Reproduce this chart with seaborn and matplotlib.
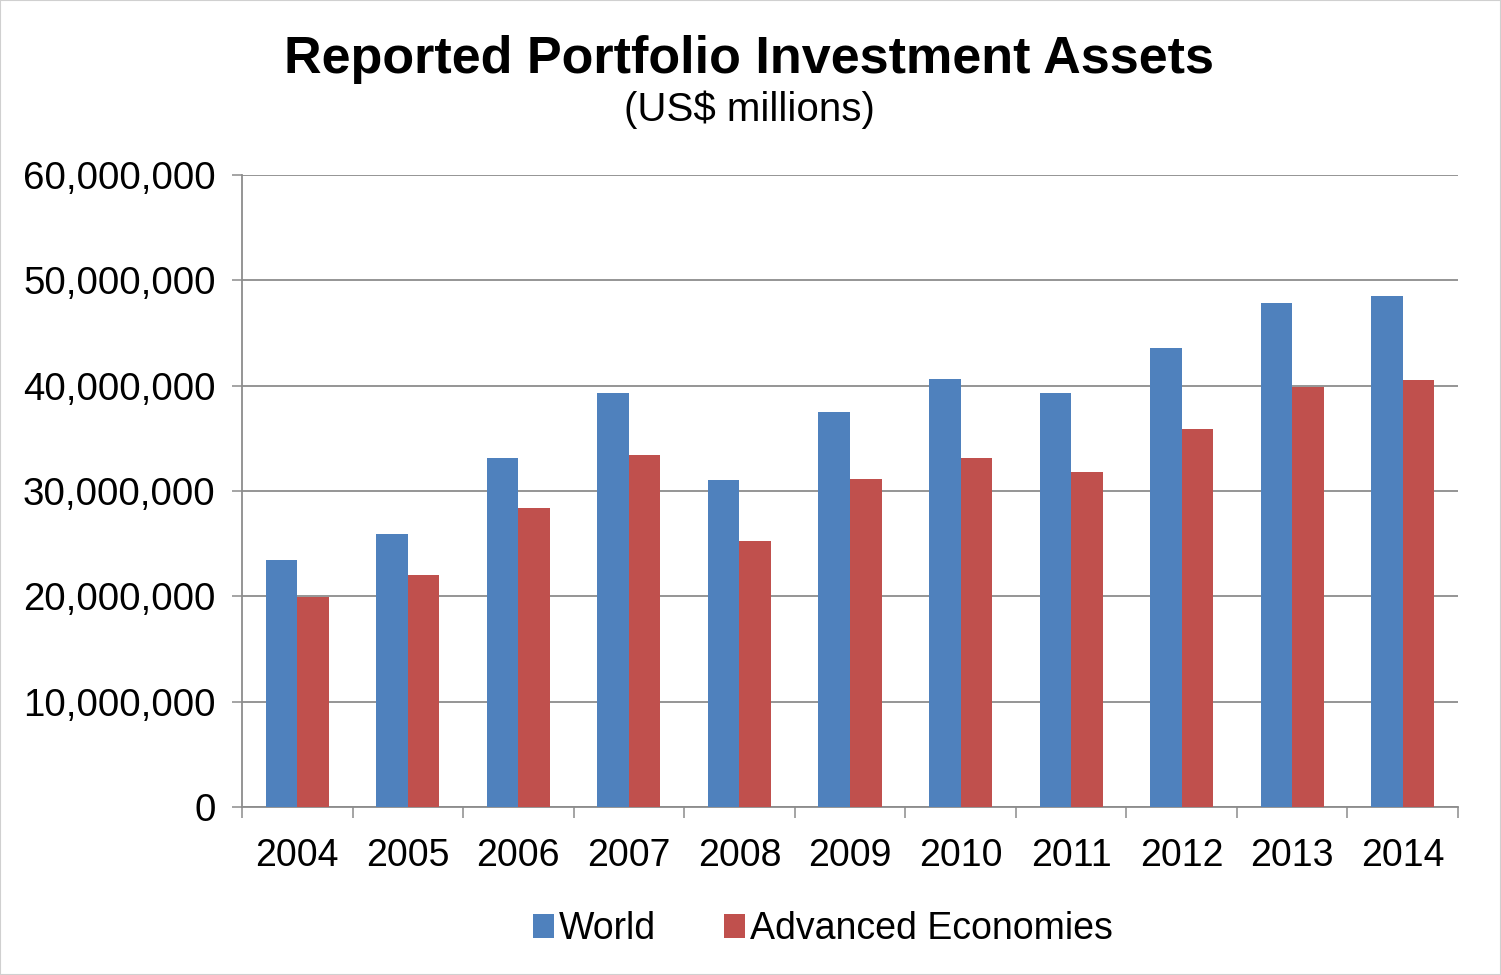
import matplotlib
matplotlib.use("Agg")
import matplotlib.pyplot as plt
import matplotlib.ticker as mticker
from matplotlib.patches import Patch, Rectangle
import seaborn as sns
import pandas as pd

years = ["2004", "2005", "2006", "2007", "2008", "2009", "2010", "2011", "2012", "2013", "2014"]
world = [23_460_000, 25_900_000, 33_100_000, 39_300_000, 31_000_000, 37_540_000,
         40_600_000, 39_300_000, 43_560_000, 47_830_000, 48_500_000]
advanced = [19_900_000, 22_000_000, 28_400_000, 33_460_000, 25_290_000, 31_150_000,
            33_100_000, 31_800_000, 35_900_000, 39_900_000, 40_500_000]
series_names = ["World", "Advanced Economies"]
colors = ["#4F81BD", "#C0504D"]
y_ticks = [0, 10_000_000, 20_000_000, 30_000_000, 40_000_000, 50_000_000, 60_000_000]

df = pd.DataFrame({
    "year": years * 2,
    "value": world + advanced,
    "series": [series_names[0]] * len(years) + [series_names[1]] * len(years),
})

sns.set_theme(style="white")
plt.rcParams["font.family"] = ["Liberation Sans", "DejaVu Sans"]
plt.rcParams["text.color"] = "black"

W, H = 1501, 975
fig = plt.figure(figsize=(W / 100, H / 100), dpi=100)
fig.patch.set_facecolor("white")
ax = fig.add_axes([242 / W, 1 - 807 / H, (1458 - 242) / W, (807 - 175) / H])

sns.barplot(data=df, x="year", y="value", hue="series", palette=colors,
            width=0.57, gap=0, dodge=True, legend=False, ax=ax, zorder=3,
            saturation=1, edgecolor="none")

grid_c = "#8c8c8c"
ax.set_ylim(0, 60_000_000)
ax.set_yticks(y_ticks)
ax.yaxis.set_major_formatter(mticker.FuncFormatter(lambda v, p: f"{v:,.0f}"))
ax.yaxis.grid(True, color=grid_c, linewidth=1.3, zorder=0)
ax.set_axisbelow(True)
ax.set_xlim(-0.5, len(years) - 0.5)

for s in ["top", "right"]:
    ax.spines[s].set_visible(False)
for s in ["left", "bottom"]:
    ax.spines[s].set_color(grid_c)
    ax.spines[s].set_linewidth(1.3)

ax.tick_params(axis="y", which="major", left=True, length=7, width=1.1,
               color=grid_c, labelsize=27.7, pad=12, labelcolor="black")
ax.tick_params(axis="x", which="major", bottom=True, length=0, labelsize=27,
               pad=22, labelcolor="black")
ax.set_xticks([i - 0.5 for i in range(len(years) + 1)], minor=True)
ax.tick_params(axis="x", which="minor", bottom=True, length=8, width=1.1, color=grid_c)
ax.set_xlabel("")
ax.set_ylabel("")

fig.text(0.499, 1 - 59 / H, "Reported Portfolio Investment Assets",
         ha="center", va="center", fontsize=37.5, fontweight="bold", color="black")
fig.text(0.499, 1 - 110 / H, "(US$ millions)", ha="center", va="center",
         fontsize=29, color="black")

handles = [Patch(facecolor=c, edgecolor="none") for c in colors]
fig.legend(handles, series_names, loc="center", bbox_to_anchor=(823 / W, 1 - 929 / H),
           ncol=2, frameon=False, fontsize=27, handlelength=0.56, handleheight=0.6,
           handletextpad=0.15, columnspacing=1.8, borderpad=0, labelcolor="black")

fig.add_artist(Rectangle((0, 0), 1, 1, transform=fig.transFigure, fill=False,
                         edgecolor="#d0d0d0", linewidth=1.5))

fig.savefig("out.png", dpi=100)
